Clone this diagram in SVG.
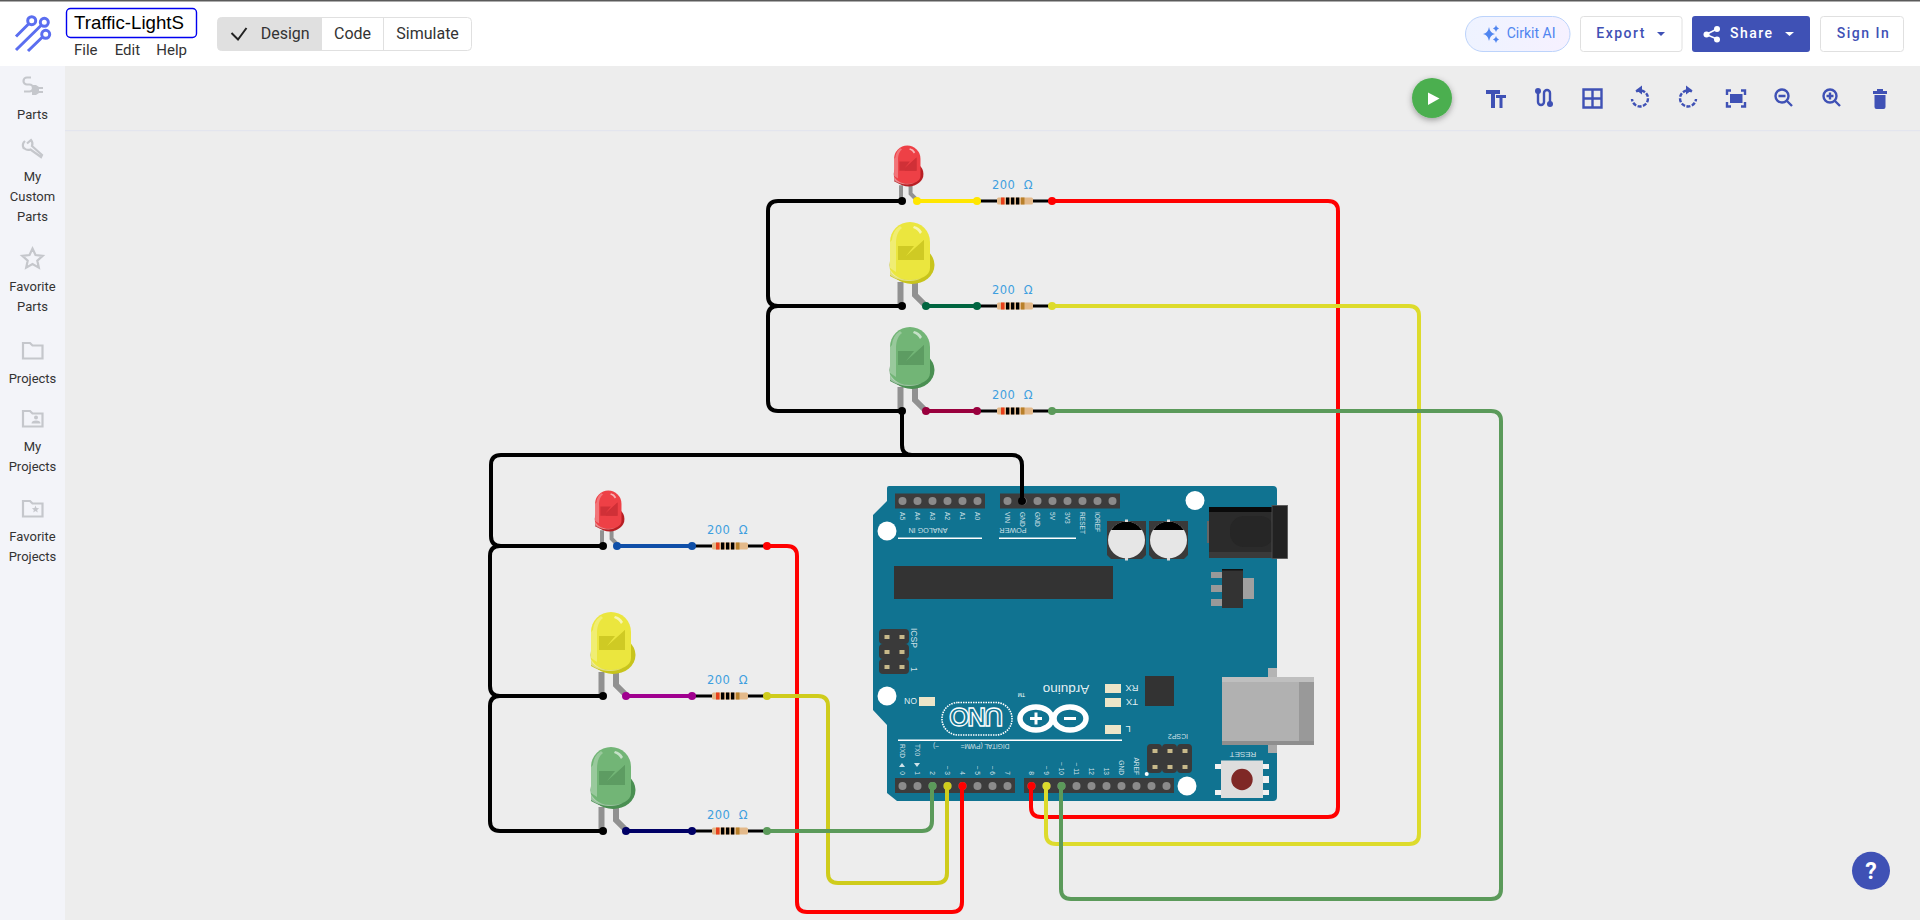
<svg xmlns="http://www.w3.org/2000/svg" width="1920" height="920" viewBox="0 0 1920 920">
<style>
.ui{font-family:Roboto,"Liberation Sans",sans-serif}
.side{font-family:Roboto,"Liberation Sans",sans-serif;font-size:13px;fill:#333;text-anchor:middle}
.seg{font-family:Roboto,"Liberation Sans",sans-serif;font-size:16px;fill:#333}
.menu{font-family:Roboto,"Liberation Sans",sans-serif;font-size:15px;fill:#333}
.btn{font-family:Roboto,"Liberation Sans",sans-serif;font-size:14px;font-weight:500;letter-spacing:1.5px;fill:#3f51b5}
.ic{fill:none;stroke:#3f51b5;stroke-width:2.4}
.sic{fill:none;stroke:#c5c7cc;stroke-width:2.2}
.w{fill:none;stroke-width:4;stroke-linejoin:round}
.lbl{font-family:"DejaVu Sans",sans-serif;font-size:11.5px;fill:#3e9fdf;letter-spacing:.4px;word-spacing:4.5px;text-anchor:middle}
.b{font-family:"Liberation Sans",sans-serif;font-size:6.6px;fill:#fff;fill-opacity:.8}
.hdr{fill:#3c3c3c}
.gold{fill:#c8b98a}
.sm{fill:#ece5c8}
.pv{fill:#3a3a3a}
</style>
<defs>
<filter id="sh" x="-40%" y="-40%" width="180%" height="180%"><feDropShadow dx="0" dy="2" stdDeviation="3" flood-color="#000" flood-opacity=".35"/></filter>
<linearGradient id="pill" x1="0" x2="1"><stop offset="0" stop-color="#eef3ff"/><stop offset="1" stop-color="#f6f1ff"/></linearGradient>
<g id="led">
<path d="M-1.500 -24V0M13 -24V-11L24 0" fill="none" stroke="#919191" stroke-width="6"/>
<ellipse cx="10" cy="-41" rx="22.500" ry="19" style="fill:var(--d)"/>
<path d="M-12 -46H4V-24C-2 -25 -7 -27 -12 -30Z" style="fill:var(--d)"/>
<path d="M-12 -64A20 20 0 0 1 28 -64V-38C28 -30 18 -26 8 -26C-2 -26 -12 -30 -12 -38Z" style="fill:var(--m)"/>
<path d="M-12 -37C-8 -29 0 -26 8 -26C12 -26 16 -27 20 -28C16 -26 12 -25 8 -25C0 -25 -6 -27 -12 -31Z" fill="#fff" fill-opacity=".45"/>
<path d="M-4 -60H12L4 -50L22 -66V-46H-4Z" style="fill:var(--s)"/>
<path d="M22 -66V-46H4L22 -66" style="fill:var(--s)"/>
<path d="M-10 -66A18 18 0 0 1 -2 -80L0 -78C-5 -74 -6 -68 -6 -62V-34L-12 -38V-64Z" fill="#fff" fill-opacity=".28"/>
<path d="M12 -80A12 12 0 0 1 20 -74L18 -72A12 12 0 0 0 11 -78Z" fill="#fff" fill-opacity=".6"/>
</g>
<g id="res">
<path d="M0 0H75" stroke="#000" stroke-width="3" fill="none"/>
<rect x="20" y="-3.500" width="36" height="7" rx="1.500" fill="#e3b98a"/>
<path d="M24 -3.500h3.500v7H24z" fill="#e8401c"/>
<path d="M29 -3.500h3.300v7H29zM34 -3.500h3.300v7H34zM39 -3.500h3.300v7H39z" fill="#000"/>
<path d="M44 -3.500h3.500v7H44z" fill="#b9802a"/>
<text class="lbl" x="35.500" y="-12">200 Ω</text>
</g>
</defs>

<rect width="1920" height="920" fill="#ededed"/>
<rect width="1920" height="66" fill="#fff"/>
<rect width="1920" height="1.500" fill="#5a5a5a"/>
<rect x="0" y="66" width="65" height="854" fill="#f3f4f9"/>
<rect x="65" y="130" width="1855" height="1.200" fill="#e3e5ee"/>

<g id="logo" fill="none" stroke="#5b6ef0" stroke-width="3">
<circle cx="31.700" cy="20.700" r="4"/><circle cx="44.300" cy="22.300" r="4"/><circle cx="45.700" cy="34.300" r="4"/>
<path d="M28.500 24L16 36.500M41 25.500L16 50M42.500 37L28 51"/>
</g>
<g id="title">
<rect x="66.500" y="8.500" width="130" height="29" rx="4" fill="#fff" stroke="#0000f0" stroke-width="1.400"/>
<text x="74" y="29" font-family="Liberation Sans,sans-serif" font-size="18.670" fill="#000">Traffic-LightS</text>
<text class="menu" x="74" y="55">File</text><text class="menu" x="114.700" y="55">Edit</text><text class="menu" x="156.300" y="55">Help</text>
</g>
<g id="mode">
<rect x="217.500" y="17.500" width="254" height="33" rx="4" fill="#fff" stroke="#e0e0e0"/>
<path d="M217.500 21.500a4 4 0 0 1 4 -4H322V50.500H221.500a4 4 0 0 1 -4 -4Z" fill="#e0e0e0"/>
<path d="M383.500 17.500V50.500" stroke="#e0e0e0"/>
<path d="M231.500 33L238 39.500L246.500 28" fill="none" stroke="#222" stroke-width="2"/>
<text class="seg" x="260.700" y="39.300">Design</text><text class="seg" x="334" y="39.300">Code</text><text class="seg" x="396.300" y="39.300">Simulate</text>
</g>
<g id="actions">
<rect x="1465.500" y="16.500" width="104.500" height="35" rx="17.500" fill="url(#pill)" stroke="#bcd3fb"/>
<path d="M1489 27q1 6 6 7q-5 1 -6 7q-1 -6 -6 -7q5 -1 6 -7ZM1496 25q.5 3 3 3.500q-2.500 .5 -3 3.500q-.5 -3 -3 -3.500q2.500 -.5 3 -3.500ZM1496 36q.5 3 3 3.500q-2.500 .5 -3 3.500q-.5 -3 -3 -3.500q2.500 -.5 3 -3.500Z" fill="#4f85f0"/>
<text class="ui" x="1506.700" y="38" font-size="14" fill="#4f85f0">Cirkit AI</text>
<rect x="1580.500" y="16.500" width="101.500" height="35" rx="3" fill="#fff" stroke="#e0e0e0"/>
<text class="btn" x="1596.300" y="38">Export</text>
<path d="M1657 32h8l-4 4Z" fill="#3f51b5"/>
<rect x="1692" y="16" width="118" height="36" rx="3" fill="#3f51b5"/>
<path d="M1717 29L1706 34.500L1717 39" fill="none" stroke="#fff" stroke-width="1.600"/>
<circle cx="1717" cy="29" r="3" fill="#fff"/><circle cx="1706.500" cy="34.500" r="3" fill="#fff"/><circle cx="1717" cy="39.500" r="3" fill="#fff"/>
<text class="btn" x="1730" y="38" style="fill:#fff">Share</text>
<path d="M1785 32h9l-4.500 4Z" fill="#fff"/>
<rect x="1820.500" y="16.500" width="83" height="35" rx="3" fill="#fff" stroke="#e0e0e0"/>
<text class="btn" x="1836.700" y="38">Sign In</text>
</g>
<g id="toolbar">
<circle cx="1432" cy="98" r="20" fill="#4caf50" filter="url(#sh)"/>
<path d="M1428 92.500L1439.500 98.500L1428 105Z" fill="#fff"/>
<path d="M1486 90h14v4h-5v14h-4V94h-5ZM1496 95h10v3h-3.500v10h-3V98H1496Z" fill="#3f51b5"/>
<path class="ic" d="M1538 90V102a3 3 0 0 0 6 0V93a3 3 0 0 1 6 0V104"/>
<circle cx="1538" cy="91" r="3" fill="#3f51b5"/><circle cx="1550" cy="104" r="3" fill="#3f51b5"/>
<path class="ic" d="M1583.500 89.500h18v18h-18zM1592.500 89.500v18M1583.500 98.500h18"/>
<path class="ic" d="M1636 91.500A8 8 0 1 1 1632 99" stroke-dasharray="4 1.500"/><path d="M1642 85.500v9l-6 -4.500Z" fill="#3f51b5"/>
<path class="ic" d="M1692 91.500A8 8 0 1 0 1696 99" stroke-dasharray="4 1.500"/><path d="M1686 85.500v9l6 -4.500Z" fill="#3f51b5"/>
<path class="ic" d="M1727 95v-4.500h4M1741 90.500h4v4.500M1745 102v4.500h-4M1731 106.500h-4v-4.500"/><rect x="1730" y="94" width="12.500" height="9" fill="#3f51b5"/>
<circle class="ic" cx="1782" cy="96" r="6.500"/><path class="ic" d="M1787 101L1792 106M1778.500 96h7"/>
<circle class="ic" cx="1830" cy="96" r="6.500"/><path class="ic" d="M1835 101L1840 106M1826.500 96h7M1830 92.500v7"/>
<path d="M1873 91h14v3h-14ZM1877 89h6v2h-6ZM1874.500 95h11v12a2 2 0 0 1 -2 2h-7a2 2 0 0 1 -2 -2Z" fill="#3f51b5"/>
</g>
<g id="sidebar">
<path class="sic" d="M31 77.500H27a3.500 3.500 0 0 0 0 7h2.500a3.500 3.500 0 0 1 0 7H24"/>
<path d="M32 85h4l3 2h4v2h-4v2h4v2h-4l-3 2h-4Z" fill="#c5c7cc"/>
<path class="sic" d="M25 141a6 6 0 0 0 -1.500 7l1 .5a6 6 0 0 0 6 1L41 157l1 -2l-10 -9a6 6 0 0 0 -1 -6l-4 3.500"/>
<path class="sic" d="M32.500 248.500l3 6.500l7.200 .8l-5.400 4.800l1.500 7l-6.300 -3.600l-6.300 3.600l1.500 -7l-5.400 -4.800l7.200 -.8Z"/>
<path class="sic" d="M23 343h7l2.500 2.500H42.500V358.500H23Z"/>
<path class="sic" d="M23 411h7l2.500 2.500H42.500V426.500H23Z"/>
<circle cx="36" cy="417.500" r="2" fill="#c5c7cc"/><path d="M31.500 423.500a4.500 3 0 0 1 9 0Z" fill="#c5c7cc"/>
<path class="sic" d="M23 501h7l2.500 2.500H42.500V516.500H23Z"/>
<path d="M35.500 505.500l1 2.500l2.600 .2l-2 1.700l.7 2.600l-2.300 -1.400l-2.300 1.400l.7 -2.600l-2 -1.700l2.600 -.2Z" fill="#c5c7cc"/>
<text class="side" x="32.500" y="118.700">Parts</text>
<text class="side" x="32.500" y="181">My</text><text class="side" x="32.500" y="201">Custom</text><text class="side" x="32.500" y="221">Parts</text>
<text class="side" x="32.500" y="290.700">Favorite</text><text class="side" x="32.500" y="310.700">Parts</text>
<text class="side" x="32.500" y="382.700">Projects</text>
<text class="side" x="32.500" y="450.700">My</text><text class="side" x="32.500" y="470.700">Projects</text>
<text class="side" x="32.500" y="540.700">Favorite</text><text class="side" x="32.500" y="560.700">Projects</text>
</g>

<g id="arduino">
<path d="M889 486H1273a4 4 0 0 1 4 4V797a4 4 0 0 1 -4 4H897L887 793V725L873 710V515L887 501V488a2 2 0 0 1 2 -2Z" fill="#107391"/>
<circle cx="1195" cy="500.500" r="9.500" fill="#fff"/><circle cx="887" cy="531" r="9.500" fill="#fff"/><circle cx="887" cy="696" r="9.500" fill="#fff"/><circle cx="1187" cy="786" r="9.500" fill="#fff"/>
<rect class="hdr" x="895" y="493.500" width="90" height="15"/><rect class="hdr" x="1000" y="493.500" width="120" height="15"/>
<rect class="hdr" x="895" y="778" width="120" height="15"/><rect class="hdr" x="1024" y="778" width="150" height="15"/>
<g fill="#8b8b8b">
<circle cx="902.500" cy="501" r="4"/><circle cx="917.500" cy="501" r="4"/><circle cx="932.500" cy="501" r="4"/><circle cx="947.500" cy="501" r="4"/><circle cx="962.500" cy="501" r="4"/><circle cx="977.500" cy="501" r="4"/>
<circle cx="1007.500" cy="501" r="4"/><circle cx="1022.500" cy="501" r="4"/><circle cx="1037.500" cy="501" r="4"/><circle cx="1052.500" cy="501" r="4"/><circle cx="1067.500" cy="501" r="4"/><circle cx="1082.500" cy="501" r="4"/><circle cx="1097.500" cy="501" r="4"/><circle cx="1112.500" cy="501" r="4"/>
<circle cx="902.500" cy="786" r="4"/><circle cx="917.500" cy="786" r="4"/><circle cx="932.500" cy="786" r="4"/><circle cx="947.500" cy="786" r="4"/><circle cx="962.500" cy="786" r="4"/><circle cx="977.500" cy="786" r="4"/><circle cx="992.500" cy="786" r="4"/><circle cx="1007.500" cy="786" r="4"/>
<circle cx="1031.500" cy="786" r="4"/><circle cx="1046.500" cy="786" r="4"/><circle cx="1061.500" cy="786" r="4"/><circle cx="1076.500" cy="786" r="4"/><circle cx="1091.500" cy="786" r="4"/><circle cx="1106.500" cy="786" r="4"/><circle cx="1121.500" cy="786" r="4"/><circle cx="1136.500" cy="786" r="4"/><circle cx="1151.500" cy="786" r="4"/><circle cx="1166.500" cy="786" r="4"/>
</g>
<rect x="894" y="566" width="219" height="33" fill="#333"/>
<rect x="898" y="537.500" width="84" height="1.500" fill="#fff"/><rect x="999" y="537.500" width="77" height="1.500" fill="#fff"/><rect x="898" y="739.500" width="224" height="1.500" fill="#fff"/>
<g class="b">
<text transform="translate(900,512) rotate(90)">A5</text><text transform="translate(915,512) rotate(90)">A4</text><text transform="translate(930,512) rotate(90)">A3</text><text transform="translate(945,512) rotate(90)">A2</text><text transform="translate(960,512) rotate(90)">A1</text><text transform="translate(975,512) rotate(90)">A0</text>
<text transform="translate(1005,512) rotate(90)">VIN</text><text transform="translate(1020,512) rotate(90)">GND</text><text transform="translate(1035,512) rotate(90)">GND</text><text transform="translate(1050,512) rotate(90)">5V</text><text transform="translate(1065,512) rotate(90)">3V3</text><text transform="translate(1080,512) rotate(90)">RESET</text><text transform="translate(1095,512) rotate(90)">IOREF</text>
<text transform="translate(928,528) rotate(180)" text-anchor="middle" font-size="7.200">ANALOG IN</text>
<text transform="translate(1013,528) rotate(180)" text-anchor="middle" font-size="7.200">POWER</text>
<text transform="translate(985,744) rotate(180)" text-anchor="middle">DIGITAL (PWM=</text>
<text transform="translate(936,744) rotate(180)" text-anchor="middle">~)</text>
<text transform="translate(900,744) rotate(90)">RXD</text><text transform="translate(915,744) rotate(90)">TX0</text>
<path d="M899 767h6l-3 -4ZM914 763h6l-3 4Z" fill="#fff"/>
<g text-anchor="end">
<text transform="translate(900,775) rotate(90)">0</text><text transform="translate(915,775) rotate(90)">1</text><text transform="translate(930,775) rotate(90)">2</text><text transform="translate(945,775) rotate(90)">~ 3</text><text transform="translate(960,775) rotate(90)">4</text><text transform="translate(975,775) rotate(90)">~ 5</text><text transform="translate(990,775) rotate(90)">~ 6</text><text transform="translate(1005,775) rotate(90)">7</text>
<text transform="translate(1029,775) rotate(90)">8</text><text transform="translate(1044,775) rotate(90)">~ 9</text><text transform="translate(1059,775) rotate(90)">~ 10</text><text transform="translate(1074,775) rotate(90)">~ 11</text><text transform="translate(1089,775) rotate(90)">12</text><text transform="translate(1104,775) rotate(90)">13</text><text transform="translate(1119,775) rotate(90)">GND</text><text transform="translate(1134,775) rotate(90)">AREF</text>
</g>
<text transform="translate(1178,734) rotate(180)" text-anchor="middle" font-size="7">ICSP2</text>
<text transform="translate(1243,752) rotate(180)" text-anchor="middle" font-size="8">RESET</text>
<text transform="translate(911,628) rotate(90)" font-size="8.500">ICSP</text>
<text transform="translate(911,667) rotate(90)" font-size="8.500">1</text>
</g>
<circle cx="1146.700" cy="774" r="2" fill="#fff"/>
<g id="icsp">
<rect class="pv" x="879" y="629" width="30" height="15" rx="4"/><rect class="pv" x="879" y="644" width="30" height="15" rx="4"/><rect class="pv" x="879" y="659" width="30" height="15" rx="4"/>
<rect class="gold" x="884.500" y="635" width="5" height="4"/><rect class="gold" x="899.500" y="635" width="5" height="4"/><rect class="gold" x="884.500" y="650" width="5" height="4"/><rect class="gold" x="899.500" y="650" width="5" height="4"/><rect class="gold" x="884.500" y="665" width="5" height="4"/><rect class="gold" x="899.500" y="665" width="5" height="4"/>
<rect class="pv" x="1147" y="744" width="15" height="29" rx="4"/><rect class="pv" x="1162" y="744" width="15" height="29" rx="4"/><rect class="pv" x="1177" y="744" width="15" height="29" rx="4"/>
<rect class="gold" x="1152.500" y="749" width="5" height="4"/><rect class="gold" x="1167.500" y="749" width="5" height="4"/><rect class="gold" x="1182.500" y="749" width="5" height="4"/><rect class="gold" x="1152.500" y="765" width="5" height="4"/><rect class="gold" x="1167.500" y="765" width="5" height="4"/><rect class="gold" x="1182.500" y="765" width="5" height="4"/>
</g>
<g id="caps">
<path d="M1107 521h39v34l-4 4h-31l-4 -4Z" fill="#3a3a3a"/><path d="M1149 521h39v34l-4 4h-31l-4 -4Z" fill="#3a3a3a"/>
<circle cx="1126.500" cy="540" r="18.500" fill="#e6e6e6"/><circle cx="1168.500" cy="540" r="18.500" fill="#e6e6e6"/>
<path d="M1111 530A18.500 18.500 0 0 1 1142 530Z" fill="#000"/><path d="M1153 530A18.500 18.500 0 0 1 1184 530Z" fill="#000"/>
<rect x="1125" y="519.500" width="3" height="2.500" fill="#ddd"/><rect x="1125" y="558" width="3" height="2.500" fill="#ddd"/><rect x="1167" y="519.500" width="3" height="2.500" fill="#ddd"/><rect x="1167" y="558" width="3" height="2.500" fill="#ddd"/>
</g>
<g id="jack">
<rect x="1207" y="521" width="3" height="22" fill="#666"/>
<rect x="1209" y="507" width="64" height="51" fill="#2b2b2b"/>
<rect x="1209" y="507" width="64" height="5" fill="#0a0a0a"/>
<rect x="1209" y="552" width="64" height="6" fill="#3a3a3a"/>
<rect x="1230" y="516" width="44" height="31" rx="14" fill="#262626"/>
<rect x="1272" y="505.500" width="15.500" height="53" fill="#222" stroke="#555" stroke-width=".8"/>
</g>
<g id="reg">
<rect x="1211" y="572" width="11" height="6" fill="#999"/><rect x="1211" y="585" width="11" height="7" fill="#999"/><rect x="1211" y="599" width="11" height="7" fill="#999"/>
<rect x="1243" y="578" width="11" height="21" fill="#a0a0a0"/>
<rect x="1222" y="569" width="21" height="39" fill="#333"/><rect x="1222" y="569" width="21" height="1.500" fill="#111"/>
</g>
<rect x="1145" y="676" width="29" height="30" fill="#333"/>
<g id="leds-board">
<rect class="sm" x="1105" y="684" width="16" height="9"/><rect class="sm" x="1105" y="698" width="16" height="9"/><rect class="sm" x="1105" y="725" width="16" height="9"/><rect class="sm" x="919" y="697" width="16" height="9"/>
<g font-family="Liberation Sans,sans-serif" fill="#fff" fill-opacity=".9" font-size="9.500" text-anchor="middle">
<text transform="translate(1132,685) rotate(180)">RX</text><text transform="translate(1132,699) rotate(180)">TX</text><text transform="translate(1128,726) rotate(180)">L</text><text transform="translate(910.500,698) rotate(180)" font-size="8.500">ON</text>
</g>
</g>
<g id="brand">
<rect x="942" y="702.500" width="70" height="32.500" rx="16" fill="none" stroke="#fff" stroke-width="1.600" stroke-dasharray="1.500 1"/>
<text transform="translate(976,708) rotate(180)" text-anchor="middle" font-family="Liberation Sans,sans-serif" font-weight="bold" font-size="26" fill="#107391" stroke="#fff" stroke-width="1.300" textLength="54">UNO</text>
<ellipse cx="1036" cy="718.500" rx="16" ry="11.500" fill="none" stroke="#fff" stroke-width="5.500"/><ellipse cx="1070" cy="718.500" rx="16" ry="11.500" fill="none" stroke="#fff" stroke-width="5.500"/>
<path d="M1030 718.500h12M1036 712.500v12M1064 718.500h12" stroke="#fff" stroke-width="3"/>
<text transform="translate(1066,685) rotate(180)" text-anchor="middle" font-family="Liberation Sans,sans-serif" font-size="13.500" fill="#fff" fill-opacity=".9">Arduino</text>
<text transform="translate(1025,693) rotate(180)" font-family="Liberation Sans,sans-serif" font-size="5" fill="#fff">TM</text>
</g>
<g id="usb">
<rect x="1268" y="668" width="9" height="10" fill="#b4b4b4"/><rect x="1268" y="744" width="9" height="9" fill="#a8a8a8"/>
<rect x="1222" y="677" width="92" height="68" fill="#b1b1b1"/>
<rect x="1222" y="677" width="92" height="5" fill="#bfbfbf"/>
<rect x="1222" y="741" width="92" height="4" fill="#8e8e8e"/>
<rect x="1299" y="682" width="15" height="59" fill="#999"/>
</g>
<g id="reset">
<path d="M1215 764h6v5h-6ZM1215 790h6v5h-6ZM1263 764h6v5h-6ZM1263 776h6v7h-6ZM1263 790h6v5h-6Z" fill="#f2f2f2"/>
<rect x="1221" y="760.500" width="42" height="37.500" fill="#ddd"/>
<circle cx="1242" cy="779.500" r="10.700" fill="#7f2826"/>
</g>
</g>

<g id="led-top-red" style="--d:#b81f24;--m:#ee4046;--s:#d03037"><use href="#led" transform="translate(902,201) scale(.66)"/></g>
<g id="led-top-yellow" style="--d:#c8c41c;--m:#ebe63e;--s:#cfca24"><use href="#led" transform="translate(902,306)"/></g>
<g id="led-top-green" style="--d:#4a8f52;--m:#72b576;--s:#5d9c62"><use href="#led" transform="translate(902,411)"/></g>
<g id="led-low-red" style="--d:#b81f24;--m:#ee4046;--s:#d03037"><use href="#led" transform="translate(603,546) scale(.66)"/></g>
<g id="led-low-yellow" style="--d:#c8c41c;--m:#ebe63e;--s:#cfca24"><use href="#led" transform="translate(603,696)"/></g>
<g id="led-low-green" style="--d:#4a8f52;--m:#72b576;--s:#5d9c62"><use href="#led" transform="translate(603,831)"/></g>

<g id="res-1"><use href="#res" transform="translate(977,201)"/></g>
<g id="res-2"><use href="#res" transform="translate(977,306)"/></g>
<g id="res-3"><use href="#res" transform="translate(977,411)"/></g>
<g id="res-4"><use href="#res" transform="translate(692,546)"/></g>
<g id="res-5"><use href="#res" transform="translate(692,696)"/></g>
<g id="res-6"><use href="#res" transform="translate(692,831)"/></g>

<g id="connectors">
<g class="w" stroke="#000">
<path d="M902 201H778Q768 201 768 211V296Q768 306 778 306H902"/>
<path d="M902 306H778Q768 306 768 316V401Q768 411 778 411H902"/>
<path d="M902 411V445Q902 455 912 455H1012Q1022 455 1022 465V501"/>
<path d="M912 455H501Q491 455 491 465V536Q491 546 501 546H603"/>
<path d="M603 546H500Q490 546 490 556V686Q490 696 500 696H603"/>
<path d="M603 696H500Q490 696 490 706V821Q490 831 500 831H603"/>
</g>
<path class="w" stroke="#ffe600" d="M917 201H977"/>
<path class="w" stroke="#006540" d="M926 306H977"/>
<path class="w" stroke="#99003d" d="M926 411H977"/>
<path class="w" stroke="#0f4fa8" d="M617 546H692"/>
<path class="w" stroke="#a0008f" d="M626 696H692"/>
<path class="w" stroke="#000066" d="M626 831H692"/>
<path class="w" stroke="#f00" d="M1052 201H1328Q1338 201 1338 211V807Q1338 817 1328 817H1041Q1031 817 1031 807V786"/>
<path class="w" stroke="#dddb2c" d="M1052 306H1409Q1419 306 1419 316V834Q1419 844 1409 844H1056Q1046 844 1046 834V786"/>
<path class="w" stroke="#5b9a5a" d="M1052 411H1491Q1501 411 1501 421V889Q1501 899 1491 899H1071Q1061 899 1061 889V786"/>
<path class="w" stroke="#f00" d="M767 546H787Q797 546 797 556V902Q797 912 807 912H952Q962 912 962 902V786"/>
<path class="w" stroke="#cfcc1c" d="M767 696H818Q828 696 828 706V873Q828 883 838 883H937Q947 883 947 873V786"/>
<path class="w" stroke="#5b9a5a" d="M767 831H922Q932 831 932 821V786"/>
<g>
<circle cx="902" cy="201" r="4"/><circle cx="902" cy="306" r="4"/><circle cx="902" cy="411" r="4"/><circle cx="603" cy="546" r="4"/><circle cx="603" cy="696" r="4"/><circle cx="603" cy="831" r="4"/><circle cx="1022" cy="501" r="4"/>
<circle cx="917" cy="201" r="4" fill="#ffe600"/><circle cx="977" cy="201" r="4" fill="#ffe600"/>
<circle cx="926" cy="306" r="4" fill="#006540"/><circle cx="977" cy="306" r="4" fill="#006540"/>
<circle cx="926" cy="411" r="4" fill="#99003d"/><circle cx="977" cy="411" r="4" fill="#99003d"/>
<circle cx="617" cy="546" r="4" fill="#0f4fa8"/><circle cx="692" cy="546" r="4" fill="#0f4fa8"/>
<circle cx="626" cy="696" r="4" fill="#a0008f"/><circle cx="692" cy="696" r="4" fill="#a0008f"/>
<circle cx="626" cy="831" r="4" fill="#000066"/><circle cx="692" cy="831" r="4" fill="#000066"/>
<circle cx="1052" cy="201" r="4" fill="#f00"/><circle cx="1052" cy="306" r="4" fill="#dddb2c"/><circle cx="1052" cy="411" r="4" fill="#5b9a5a"/>
<circle cx="767" cy="546" r="4" fill="#f00"/><circle cx="767" cy="696" r="4" fill="#cfcc1c"/><circle cx="767" cy="831" r="4" fill="#5b9a5a"/>
<circle cx="1031.500" cy="786" r="4" fill="#f00"/><circle cx="1046.500" cy="786" r="4" fill="#dddb2c"/><circle cx="1061.500" cy="786" r="4" fill="#5b9a5a"/>
<circle cx="932.500" cy="786" r="4" fill="#5b9a5a"/><circle cx="947.500" cy="786" r="4" fill="#cfcc1c"/><circle cx="962.500" cy="786" r="4" fill="#f00"/>
</g>
</g>

<g id="help">
<circle cx="1871" cy="870.700" r="19" fill="#3f51b5"/>
<text x="1871" y="879" text-anchor="middle" font-family="Roboto,sans-serif" font-weight="700" font-size="23" fill="#fff">?</text>
</g>
</svg>
